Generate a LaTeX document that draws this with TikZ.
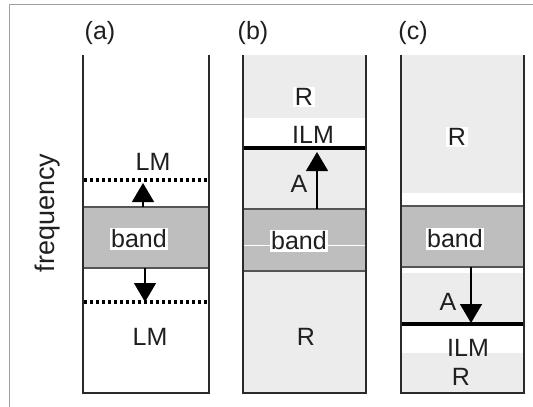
\documentclass[tikz,border=0pt]{standalone}
\usepackage{fontspec}
\setmainfont{Liberation Sans}
\usetikzlibrary{arrows.meta}
\definecolor{wallcol}{HTML}{2A2A2A}
\definecolor{bandfill}{HTML}{BEBEBE}
\definecolor{bandedge}{HTML}{555555}
\definecolor{pale}{HTML}{ECECEC}
\definecolor{framecol}{HTML}{A0A0A0}
\tikzset{
  wall/.style={draw=wallcol, line width=2pt},
  bandbox/.style={fill=bandfill, draw=bandedge, line width=2.4pt},
  lbl/.style={font=\fontsize{25}{25}\selectfont, inner sep=1.5pt, text=black!88},
  tagged/.style={lbl, fill=white},
  level/.style={line width=4.5pt, black},
  dotlevel/.style={line width=3.2pt, black, dash pattern=on 3pt off 3pt},
  jump/.style={line width=1.5pt, black, -{Triangle[width=22pt,length=19pt]}},
}
\begin{document}
\begin{tikzpicture}[x=1pt,y=-1pt]
\useasboundingbox (0,0) rectangle (533,407);
% outer frame
\draw[framecol, line width=1pt] (9,407) -- (9,4) -- (533,4);

% ---------- panel (a): band with two local modes ----------
\draw[bandbox] (83,207) rectangle (209,268);
\draw[dotlevel] (84,180) -- (209,180);
\draw[dotlevel] (84,302) -- (209,302);
\draw[wall] (83,55) -- (83,393) -- (209,393) -- (209,55);
\coordinate (aup0) at (143,207);
\coordinate (aup1) at (143,183);
\coordinate (adn0) at (145,268);
\coordinate (adn1) at (145,302);
\draw[jump] (aup0) -- (aup1);
\draw[jump] (adn0) -- (adn1);
\node[lbl] (albl) at (100,33) {(a)};
\node[lbl] (alm1) at (153,162) {LM};
\node[tagged] (aband) at (139,239) {band};
\node[lbl] (alm2) at (150,337) {LM};

% ---------- panel (b): ILM above the band ----------
\fill[pale] (243,55) rectangle (366,118);
\fill[pale] (243,150) rectangle (366,209);
\fill[pale] (243,272) rectangle (366,393);
\draw[bandbox] (243,209) rectangle (366,271);
\draw[white, line width=0.8pt] (244,245) -- (365,245);
\draw[level] (243,148) -- (366,148);
\draw[wall] (243,55) -- (243,393) -- (366,393) -- (366,55);
\coordinate (bup0) at (317,209);
\coordinate (bup1) at (317,152);
\draw[jump] (bup0) -- (bup1);
\node[lbl] (blbl) at (253,33) {(b)};
\node[tagged] (br1) at (304,97) {R};
\node[lbl] (bilm) at (313,135) {ILM};
\node[lbl] (ba) at (299,184) {A};
\node[tagged] (bband) at (299,241) {band};
\node[lbl] (br2) at (306,337) {R};

% ---------- panel (c): ILM below the band ----------
\fill[pale] (401,55) rectangle (524,193);
\fill[pale] (401,273) rectangle (524,324);
\fill[pale] (401,353) rectangle (524,393);
\draw[bandbox] (401,206) rectangle (524,267);
\draw[level] (401,324) -- (524,324);
\draw[wall] (401,55) -- (401,393) -- (524,393) -- (524,55);
\coordinate (cdn0) at (471,267);
\coordinate (cdn1) at (471,323);
\draw[jump] (cdn0) -- (cdn1);
\node[lbl] (clbl) at (413,33) {(c)};
\node[tagged] (cr1) at (457,137) {R};
\node[tagged] (cband) at (455,239) {band};
\node[lbl] (ca) at (448,302) {A};
\node[lbl] (cilm) at (468,348) {ILM};
\node[lbl] (cr2) at (461,377) {R};

% axis label
\node[lbl, font=\fontsize{27}{27}\selectfont, rotate=90] (freq) at (48,213) {frequency};
\end{tikzpicture}
\end{document}
